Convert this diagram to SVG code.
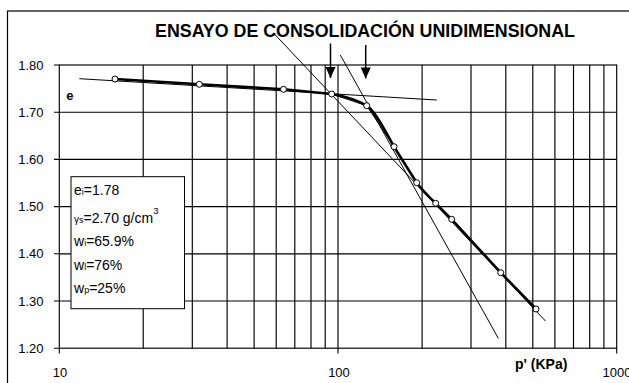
<svg xmlns="http://www.w3.org/2000/svg" width="629" height="383" viewBox="0 0 629 383">
<style>
text{font-family:"Liberation Sans",Arial,sans-serif;fill:#000}
.grid{stroke:#000;stroke-width:1.15;fill:none}
.tick{stroke:#000;stroke-width:1.1}
.ylbl{font-size:13px;text-anchor:end}
.xlbl{font-size:13px;text-anchor:middle}
.leg{font-size:14px}
.sub{font-size:9px}
.thin{stroke:#000;stroke-width:1;fill:none}
.curve{stroke:#000;stroke-width:2.6;fill:none;stroke-linejoin:round;stroke-linecap:round}
.pt{fill:#fff;stroke:#000;stroke-width:1}
.arrow{stroke:#000;stroke-width:1.5}
</style>
<defs>
<marker id="ah" viewBox="0 0 12 12" refX="12" refY="6" markerWidth="12" markerHeight="11" orient="auto" markerUnits="userSpaceOnUse">
<path d="M0,0.5 L12,6 L0,11.5 z" fill="#000"/>
</marker>
</defs>
<rect width="629" height="383" fill="#fff"/>
<g id="frame">
<rect x="7.5" y="11" width="660" height="420" fill="none" stroke="#000" stroke-width="1.2"/>
</g>
<g id="title">
<text x="155" y="36.5" font-size="18.3" font-weight="bold" textLength="420" lengthAdjust="spacingAndGlyphs">ENSAYO DE CONSOLIDACIÓN UNIDIMENSIONAL</text>
</g>
<g id="grid">
<path class="grid" d="M143.2,65V348.2M192.3,65V348.2M227.1,65V348.2M254.1,65V348.2M276.2,65V348.2M294.8,65V348.2M311,65V348.2M325.2,65V348.2M338,65V348.2M422.1,65V348.2M471,65V348.2M505.8,65V348.2M532.8,65V348.2M554.9,65V348.2M573.5,65V348.2M589.7,65V348.2M603.9,65V348.2"/>
<path class="grid" d="M59.3,112.2H616.7M59.3,159.4H616.7M59.3,206.6H616.7M59.3,253.8H616.7M59.3,301H616.7"/>
<rect class="grid" x="59.3" y="65" width="557.4" height="283.2"/>
</g>
<g id="axes">
<path class="tick" d="M54,65H59.3M54,112.2H59.3M54,159.4H59.3M54,206.6H59.3M54,253.8H59.3M54,301H59.3M54,348.2H59.3M59.3,348.2V353.5M338,348.2V353.5M616.7,348.2V353.5"/>
<text class="ylbl" x="43.5" y="69.5">1.80</text>
<text class="ylbl" x="43.5" y="116.7">1.70</text>
<text class="ylbl" x="43.5" y="163.9">1.60</text>
<text class="ylbl" x="43.5" y="211.1">1.50</text>
<text class="ylbl" x="43.5" y="258.3">1.40</text>
<text class="ylbl" x="43.5" y="305.5">1.30</text>
<text class="ylbl" x="43.5" y="352.9">1.20</text>
<text class="xlbl" x="60" y="376.7">10</text>
<text class="xlbl" x="339" y="376.7">100</text>
<text class="xlbl" x="617" y="376.7">1000</text>
<text x="66.3" y="100" font-size="13" font-weight="bold">e</text>
<text x="515" y="368.5" font-size="14" font-weight="bold">p' (KPa)</text>
</g>
<g id="connectors">
<line class="thin" x1="79.3" y1="78.7" x2="436.7" y2="100"/>
<line class="thin" x1="273.5" y1="33" x2="545.5" y2="321"/>
<line class="thin" x1="340.3" y1="55" x2="498.3" y2="338.3"/>
<line class="arrow" x1="330.5" y1="43.5" x2="330.5" y2="78" marker-end="url(#ah)"/>
<line class="arrow" x1="365.7" y1="45" x2="365.7" y2="78.5" marker-end="url(#ah)"/>
</g>
<g id="curve">
<path class="thin" d="M331.7,94 L366.7,105.7 L394,146.7 L416.7,182.7 L435.7,203.3 L451.7,219.3 L500.7,272.7 L536,309"/>
<path class="curve" d="M115,79 L199.3,84.3 L283.5,89.3 L331.7,94 C346,96.5 357,100 366.7,105.7 C375,111 386,132 394,146.7 L416.7,182.7 C422,190 428,196 435.7,203.3 L451.7,219.3 L500.7,272.7 L536,309"/>
</g>
<g id="points">
<circle class="pt" cx="115" cy="79" r="3"/>
<circle class="pt" cx="199.3" cy="84.3" r="3"/>
<circle class="pt" cx="283.5" cy="89.3" r="3"/>
<circle class="pt" cx="331.7" cy="94" r="3"/>
<circle class="pt" cx="366.7" cy="105.7" r="3"/>
<circle class="pt" cx="394" cy="146.7" r="3"/>
<circle class="pt" cx="416.7" cy="182.7" r="3"/>
<circle class="pt" cx="435.7" cy="203.3" r="3"/>
<circle class="pt" cx="451.7" cy="219.3" r="3"/>
<circle class="pt" cx="500.7" cy="272.7" r="3"/>
<circle class="pt" cx="536" cy="309" r="3"/>
</g>
<g id="legend">
<rect x="71" y="176.7" width="113.5" height="132" fill="#fff" stroke="#000" stroke-width="1"/>
<text class="leg" x="74" y="195">e<tspan class="sub">i</tspan>=1.78</text>
<text class="leg" x="74" y="222.5"><tspan font-size="10">γ</tspan><tspan class="sub">s</tspan>=2.70 g/cm<tspan font-size="9.5" dy="-9">3</tspan></text>
<text class="leg" x="74" y="246">w<tspan class="sub">i</tspan>=65.9%</text>
<text class="leg" x="74" y="270">w<tspan class="sub">l</tspan>=76%</text>
<text class="leg" x="74" y="293">w<tspan class="sub">p</tspan>=25%</text>
</g>
</svg>
